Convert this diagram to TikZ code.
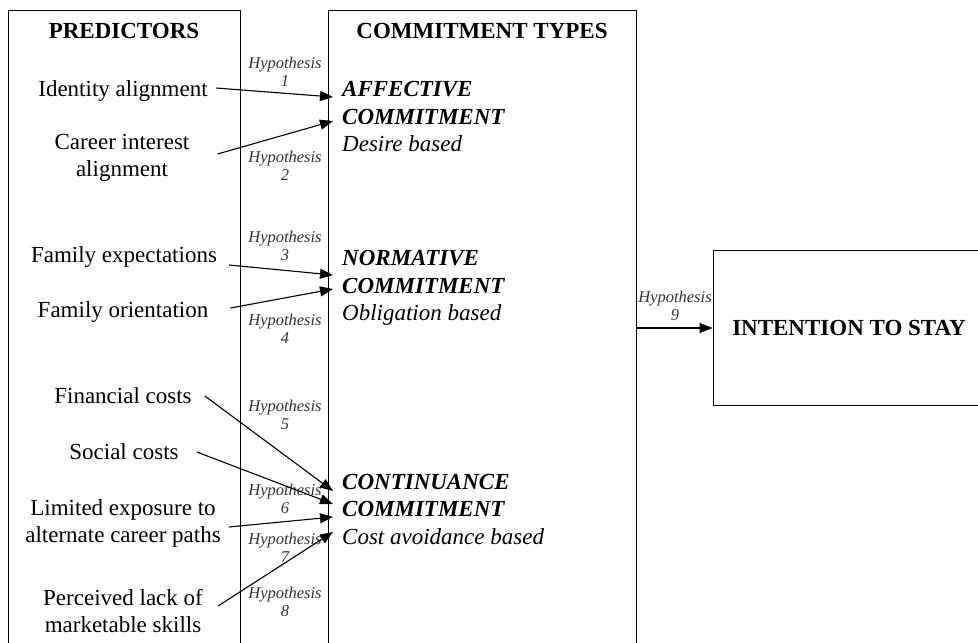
\documentclass[tikz,border=0pt]{standalone}
\usepackage{fontspec}
\setmainfont{Liberation Serif}
\usetikzlibrary{arrows.meta}
\newcommand{\hyp}[1]{Hypothesis\\#1}
\newcommand{\ctitle}[2]{{\bfseries #1}\\{\bfseries COMMITMENT}\\#2}
\tikzset{
  box/.style={draw,line width=1pt,inner sep=0pt},
  pred/.style={align=center,inner sep=2pt,font=\fontsize{23}{27}\selectfont},
  ctype/.style={align=left,anchor=west,inner sep=2pt,font=\fontsize{23}{27.5}\selectfont\itshape},
  hyp/.style={align=center,inner sep=1pt,text=black!80,font=\fontsize{16.5}{17.5}\selectfont\itshape},
  link/.style={-{Triangle[length=13pt,width=10pt]},line width=1.1pt}
}

\begin{document}
\begin{tikzpicture}[x=1pt,y=-1pt]
  \clip (0,0) rectangle (978,643);
  % the three boxes
  \node[box,anchor=north west,minimum width=232pt,minimum height=660pt] (preds) at (8,10) {};
  \node[box,anchor=north west,minimum width=308pt,minimum height=660pt] (types) at (328,10) {};
  \node[box,minimum width=272pt,minimum height=155pt,font=\fontsize{23}{27}\selectfont\bfseries] (intent) at (849,328) {INTENTION TO STAY};
  \node[pred] (ptitle) at (124,31) {\bfseries PREDICTORS};
  \node[pred] (ttitle) at (482,31) {\bfseries COMMITMENT TYPES};
  % predictors
  \node[pred] (idal) at (123,91) {Identity alignment};
  \node[pred] (cia) at (122,158) {Career interest\\alignment};
  \node[pred] (famexp) at (124,257) {Family expectations};
  \node[pred] (famor) at (123,312) {Family orientation};
  \node[pred] (fincost) at (123,396) {Financial costs};
  \node[pred] (soccost) at (124,452) {Social costs};
  \node[pred] (limexp) at (123,523) {Limited exposure to\\alternate career paths};
  \node[pred] (perc) at (123,611) {Perceived lack of\\marketable skills};
  % commitment types
  \node[ctype] (aff) at (340,117) {\ctitle{AFFECTIVE}{Desire based}};
  \node[ctype] (norm) at (340,288) {\ctitle{NORMATIVE}{Obligation based}};
  \node[ctype] (cont) at (340,509) {\ctitle{CONTINUANCE}{Cost avoidance based}};
  % hypotheses
  \foreach \i/\y in {1/72,2/166,3/246,4/329,5/415,6/499,7/548,8/602}
    \node[hyp] (hyp\i) at (285,\y) {\hyp{\i}};
  \node[hyp] (hyp9) at (675,306) {\hyp{9}};
  \foreach \i/\y in {1/97,2/121,3/275,4/289,5/491,6/504,7/517,8/532}
    \coordinate (tip\i) at (333,\y);
  \foreach \s/\dx/\dy/\i in {idal/6/3/1,cia/26/4/2,famexp/10/-8/3,famor/20/4/4,fincost/11/0/5,soccost/16/0/6,limexp/6/-4/7,perc/13/5/8}
    \draw[link] ([xshift=\dx pt,yshift=\dy pt]\s.east) -- (tip\i);
  \draw[link] (types.east |- intent.west) -- (intent.west);
\end{tikzpicture}
\end{document}
